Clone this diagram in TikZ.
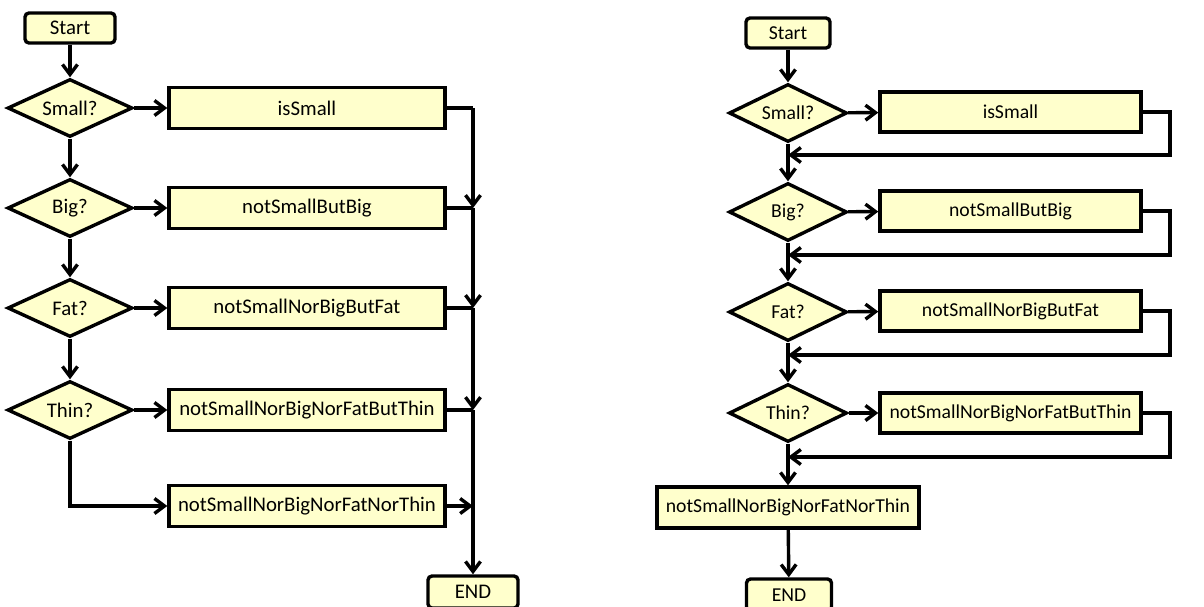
\documentclass[tikz,border=0pt]{standalone}
\usepackage{fontspec}
\setmainfont{Carlito}
\usetikzlibrary{shapes.geometric,arrows.meta}
\definecolor{boxfill}{HTML}{FFFFCC}
\begin{document}
\begin{tikzpicture}[x=1pt,y=-1pt,
  base/.style={draw=black,line width=3.4pt,fill=boxfill,inner sep=0pt,font=\fontsize{20.8}{23}\selectfont},
  rside/.style={font=\fontsize{19.7}{22}\selectfont},
  term/.style={base,rectangle,rounded corners=4pt,minimum width=#1,minimum height=30pt},
  proc/.style={base,rectangle,minimum width=#1,minimum height=41pt},
  dec/.style={base,diamond,aspect=2.1,minimum width=#1,minimum height=58pt},
  line/.style={line width=3.4pt,draw=black},
  arr/.style={line,-{Straight Barb[length=10pt,width=15pt,line width=3.4pt]}}
]
\useasboundingbox (0,0) rectangle (1204,606);
% ---------------- left diagram ----------------
\node[term=90pt] (lstart) at (70,28) {Start};
\node[dec=125pt] (ls) at (70,108) {Small?};
\node[dec=125pt] (lb) at (70,208) {Big?};
\node[dec=125pt] (lf) at (70,308) {Fat?};
\node[dec=125pt] (lt) at (70,410) {Thin?};
\node[proc=276pt] (lps) at (307,108) {isSmall};
\node[proc=276pt] (lpb) at (307,208) {notSmallButBig};
\node[proc=276pt] (lpf) at (307,308) {notSmallNorBigButFat};
\node[proc=276pt] (lpt) at (307,410) {notSmallNorBigNorFatButThin};
\node[proc=276pt] (lpn) at (307,506) {notSmallNorBigNorFatNorThin};
\node[term=90pt,minimum height=32pt] (lend) at (473,592) {END};
\coordinate (lc1) at (473,108);
\coordinate (lc2) at (473,208);
\coordinate (lc3) at (473,308);
\coordinate (lc4) at (473,410);
\coordinate (lc5) at (473,506);
\coordinate (lk) at (70,506);
\draw[arr] (lstart) -- (ls);
\draw[arr] (ls) -- (lb);
\draw[arr] (lb) -- (lf);
\draw[arr] (lf) -- (lt);
\draw[arr] (ls) -- (lps);
\draw[arr] (lb) -- (lpb);
\draw[arr] (lf) -- (lpf);
\draw[arr] (lt) -- (lpt);
\draw[arr] (lt.south) -- (lk) -- (lpn.west);
\draw[line] (lps.east) -- (lc1);
\draw[arr] (lc1) -- (lc2);
\draw[line] (lpb.east) -- (lc2);
\draw[arr] (lc2) -- (lc3);
\draw[line] (lpf.east) -- (lc3);
\draw[arr] (lc3) -- (lc4);
\draw[line] (lpt.east) -- (lc4);
\draw[line] (lc4) -- (lc5);
\draw[arr] (lpn.east) -- (lc5);
\draw[arr] (lc5) -- (lend.north);
% ---------------- right diagram ----------------
\node[term=84pt,rside] (rstart) at (788,33) {Start};
\node[dec=118pt,rside] (rs) at (788,113) {Small?};
\node[dec=118pt,rside] (rb) at (788,212) {Big?};
\node[dec=118pt,rside] (rf) at (788,312) {Fat?};
\node[dec=118pt,rside] (rt) at (788,413) {Thin?};
\node[proc=261pt,minimum height=40pt,rside] (rps) at (1010.5,112) {isSmall};
\node[proc=261pt,minimum height=40pt,rside] (rpb) at (1010.5,211) {notSmallButBig};
\node[proc=261pt,minimum height=40pt,rside] (rpf) at (1010.5,311) {notSmallNorBigButFat};
\node[proc=261pt,minimum height=40pt,rside] (rpt) at (1010.5,413) {notSmallNorBigNorFatButThin};
\node[proc=262pt,rside] (rpn) at (788,507.5) {notSmallNorBigNorFatNorThin};
\node[term=85pt,minimum height=32pt,rside] (rend) at (789,595) {END};
\coordinate (ra1) at (1170,112);
\coordinate (rb1) at (1170,155);
\coordinate (rm1) at (788,155);
\coordinate (ra2) at (1170,211);
\coordinate (rb2) at (1170,255);
\coordinate (rm2) at (788,255);
\coordinate (ra3) at (1170,311);
\coordinate (rb3) at (1170,355);
\coordinate (rm3) at (788,355);
\coordinate (ra4) at (1170,413);
\coordinate (rb4) at (1170,457);
\coordinate (rm4) at (788,457);
\draw[arr] (rstart) -- (rs);
\draw[arr] (rs) -- (rb);
\draw[arr] (rb) -- (rf);
\draw[arr] (rf) -- (rt);
\draw[arr] (rt) -- (rpn);
\draw[arr] (rpn) -- (rend);
\draw[arr] (rs) -- (rps);
\draw[arr] (rb) -- (rpb);
\draw[arr] (rf) -- (rpf);
\draw[arr] (rt) -- (rpt);
\draw[arr] (rps.east) -- (ra1) -- (rb1) -- (rm1);
\draw[arr] (rpb.east) -- (ra2) -- (rb2) -- (rm2);
\draw[arr] (rpf.east) -- (ra3) -- (rb3) -- (rm3);
\draw[arr] (rpt.east) -- (ra4) -- (rb4) -- (rm4);
\end{tikzpicture}
\end{document}
